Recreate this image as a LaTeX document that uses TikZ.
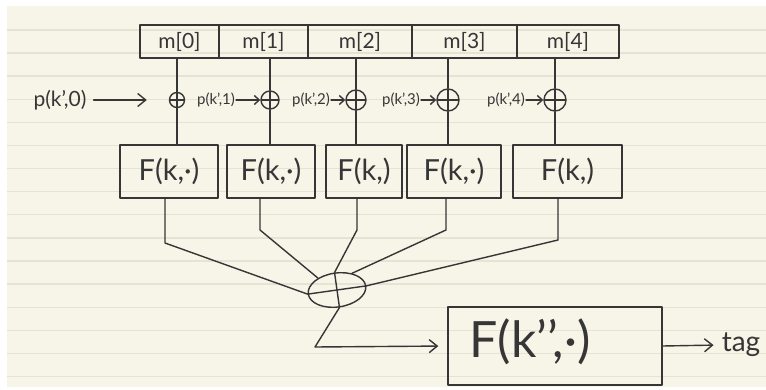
\documentclass[tikz,border=0pt]{standalone}
\usepackage{fontspec}
\setmainfont{Lato}
\usetikzlibrary{shapes.geometric,arrows.meta}
\definecolor{paper}{HTML}{F7F4E8}
\definecolor{ruling}{HTML}{E6E2D4}
\definecolor{ink}{HTML}{363636}
\begin{document}
\begin{tikzpicture}[x=1pt,y=-1pt,
  pen/.style={draw=ink, line width=1.4pt, line cap=round, line join=round},
  cell/.style={pen, minimum height=33pt, inner sep=0pt, text=ink,
    font=\fontsize{21}{21}\selectfont},
  xorplus/.style={circle, pen, minimum size=#1, inner sep=0pt,
    path picture={\draw[pen]
      (path picture bounding box.north) -- (path picture bounding box.south)
      (path picture bounding box.west) -- (path picture bounding box.east);}},
  fbox/.style={pen, inner sep=0pt, text=ink, font=\fontsize{29}{29}\selectfont},
  plab/.style={inner sep=1pt, text=ink, font=\fontsize{15}{15}\selectfont},
  barb/.style={-{Straight Barb[length=5pt,width=9pt]}},
  bigbarb/.style={-{Straight Barb[length=8pt,width=13pt]}}
]
% page and ruled paper
\useasboundingbox (0,0) rectangle (766,390);
\fill[white] (0,0) rectangle (766,390);
\fill[paper] (7,6) rectangle (766,387);
\foreach \k in {0,...,15}
  \draw[ruling, line width=1.4pt] (7,{30+23.1*\k}) -- (766,{30+23.1*\k});

% message blocks
\node[cell, minimum width=79pt]  (m0) at (179.5,41.5) {m[0]};
\node[cell, minimum width=89pt]  (m1) at (263.5,41.5) {m[1]};
\node[cell, minimum width=104pt] (m2) at (360,41.5)   {m[2]};
\node[cell, minimum width=105pt] (m3) at (464.5,41.5) {m[3]};
\node[cell, minimum width=102pt] (m4) at (568,41.5)   {m[4]};

% xor with the pad
\node[xorplus=15pt] (a0) at (177,100) {};
\node[xorplus=18pt] (a1) at (270,100) {};
\node[xorplus=20pt] (a2) at (356,100) {};
\node[xorplus=22pt] (a3) at (448,100) {};
\node[xorplus=22pt] (a4) at (555,100) {};

\node[plab, font=\fontsize{21}{21}\selectfont] (p0) at (60,100) {p(k’,0)};
\node[plab] (p1) at (216,100) {p(k’,1)};
\node[plab] (p2) at (311,100) {p(k’,2)};
\node[plab] (p3) at (401,100) {p(k’,3)};
\node[plab] (p4) at (506,100) {p(k’,4)};

\draw[pen, bigbarb, shorten <=6pt, shorten >=22pt] (p0) -- (a0);
\draw[pen, barb] (p1) -- (a1);
\draw[pen, barb] (p2) -- (a2);
\draw[pen, barb] (p3) -- (a3);
\draw[pen, barb] (p4) -- (a4);

\foreach \i in {0,...,4}
  \draw[pen] (m\i.south -| a\i) -- (a\i);

% block function
\node[fbox, minimum width=98pt,  minimum height=53pt] (f0) at (169,171.5)   {F(k,·)};
\node[fbox, minimum width=88pt,  minimum height=53pt] (f1) at (271,171.5)   {F(k,·)};
\node[fbox, minimum width=76pt,  minimum height=53pt] (f2) at (364,171.5)   {F(k,)};
\node[fbox, minimum width=94pt,  minimum height=53pt] (f3) at (454,171.5)   {F(k,·)};
\node[fbox, minimum width=109pt, minimum height=53pt] (f4) at (567.5,171.5) {F(k,)};

\foreach \i in {0,...,4}
  \draw[pen] (a\i) -- (a\i |- f\i.north);

% combining xor
\node[ellipse, pen, minimum width=58pt, minimum height=34pt, inner sep=0pt,
      rotate=8] (xor) at (337,290) {};
\draw[pen] (xor.west) -- (xor.east);
\draw[pen] (xor.north) -- (xor.south);

\coordinate (b0) at (165,243);
\coordinate (b1) at (260,230);
\coordinate (b2) at (357,230);
\coordinate (b3) at (446,230);
\coordinate (b4) at (558,240);

\draw[pen] (b0 |- f0.south) -- (b0) -- (xor.west);
\draw[pen] (b1 |- f1.south) -- (b1) -- (xor.140);
\draw[pen] (b2 |- f2.south) -- (b2) -- (xor.north);
\draw[pen] (b3 |- f3.south) -- (b3) -- (xor.40);
\draw[pen] (b4 |- f4.south) -- (b4) -- (xor.east);

% final function and tag
\node[fbox, minimum width=214pt, minimum height=78pt] (fin) at (555,346) {};
\node[text=ink, inner sep=0pt, font=\fontsize{50}{50}\selectfont] (finl) at (530,342) {F(k’{}’,·)};
\node[text=ink, inner sep=2pt, font=\fontsize{28}{28}\selectfont] (tag) at (741,345) {tag};

\coordinate (c) at (315,347);
\draw[pen, bigbarb, shorten >=9pt] (xor.south) -- (c) -- (fin.west);
\draw[pen, bigbarb, shorten >=6pt] (fin.east) -- (tag.west);
\end{tikzpicture}
\end{document}
